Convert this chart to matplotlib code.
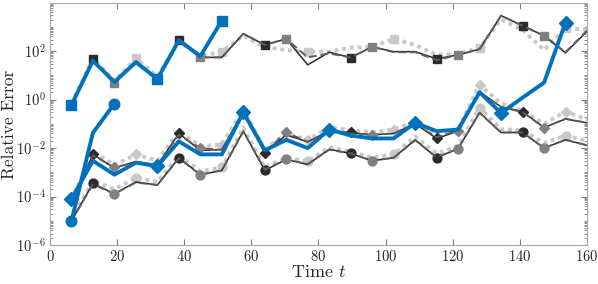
import numpy as np
import matplotlib
matplotlib.use("Agg")
import matplotlib.pyplot as plt
from matplotlib.ticker import LogLocator, FixedLocator, NullFormatter

plt.rcParams['font.family'] = 'serif'
plt.rcParams['font.serif'] = ['cmr10', 'DejaVu Serif']
plt.rcParams['mathtext.fontset'] = 'cm'
plt.rcParams['axes.formatter.use_mathtext'] = True

# time steps
t = np.arange(1, 26) * 6.4

# square group (~1e2)
sq_black = [0.6, 45, 5, 35, 7, 280, 55, 55, 520, 180, 320, 27, 90, 54, 150,
            95, 95, 48, 70, 120, 2900, 1100, 430, 85, 650]
sq_gray = [0.6, 40, 5, 38, 7, 260, 55, 55, 520, 180, 320, 55, 80, 54, 150,
           90, 90, 42, 70, 120, 2900, 1100, 430, 90, 700]
sq_light = [0.7, 50, 6, 50, 9, 250, 60, 95, 420, 150, 110, 95, 95, 140, 150,
            320, 180, 70, 75, 140, 2000, 750, 110, 900, 750]
sq_blue = [0.6, 40, 5.3, 35, 7, 280, 62, 1800]

# diamond group (~1e-2)
di_black = [6e-5, 5.5e-3, 1.5e-3, 2.8e-3, 2e-3, 0.04, 8e-3, 8.7e-3, 0.3, 6.5e-3,
            0.035, 0.018, 0.05, 0.044, 0.035, 0.04, 0.1, 0.025, 0.05, 2.1,
            0.5, 0.32, 0.07, 0.16, 0.11]
di_gray = [6e-5, 5e-3, 1.6e-3, 2.6e-3, 2e-3, 0.035, 0.01, 8.5e-3, 0.28, 7e-3,
           0.044, 0.018, 0.05, 0.04, 0.036, 0.04, 0.1, 0.028, 0.053, 2.0,
           0.5, 0.3, 0.07, 0.16, 0.11]
di_light = [7e-5, 7e-3, 2e-3, 5.5e-3, 3e-3, 0.05, 0.012, 0.014, 0.4, 9e-3,
            0.04, 0.022, 0.07, 0.055, 0.045, 0.058, 0.12, 0.035, 0.06, 4.1,
            0.7, 0.35, 0.1, 0.32, 0.15]
di_blue = [8e-5, 3e-3, 8e-4, 2.5e-3, 1.8e-3, 0.019, 5.5e-3, 5.5e-3, 0.3, 8e-3,
           0.022, 0.01, 0.058, 0.033, 0.025, 0.025, 0.11, 0.05, 0.058, 2.0,
           0.28, 1.2, 5, 1500]

# circle group (~1e-3)
ci_black = [1e-5, 3.5e-4, 1.3e-4, 4e-4, 3e-4, 4e-3, 8e-4, 1.2e-3, 0.05, 1.2e-3,
            3.4e-3, 2.1e-3, 9e-3, 6e-3, 3e-3, 4e-3, 0.022, 4e-3, 9.5e-3, 0.29,
            0.044, 0.044, 0.01, 0.022, 0.013]
ci_gray = [1e-5, 3.2e-4, 1.3e-4, 3.8e-4, 3e-4, 3.8e-3, 8e-4, 1.2e-3, 0.048, 1.3e-3,
           3.4e-3, 2.2e-3, 8.5e-3, 6e-3, 3e-3, 4e-3, 0.021, 4.2e-3, 9.5e-3, 0.28,
           0.044, 0.044, 0.01, 0.022, 0.013]
ci_light = [1.2e-5, 4.5e-4, 2e-4, 6e-4, 4e-4, 5e-3, 1.1e-3, 1.6e-3, 0.07, 1.6e-3,
            4e-3, 2.8e-3, 0.011, 7e-3, 4e-3, 5.5e-3, 0.03, 6e-3, 0.012, 0.47,
            0.06, 0.055, 0.016, 0.033, 0.02]
ci_blue = [1e-5, 0.043, 0.68]

c_black = '#2b2b2b'
c_dash = '#5e5e5e'
c_mid = '#808080'
c_light = '#c8c8c8'
c_blue = '#0072BD'

fig = plt.figure(figsize=(5.98, 2.84), dpi=100)
ax = fig.add_axes([0.0836, 0.137, 0.898, 0.852])

n = len(t)
idx_black = list(range(1, n, 4))
idx_gray = list(range(2, n, 4))
idx_light = list(range(3, n, 4))


def blue_idx(m):
    ids = list(range(0, m, 4))
    if m - 1 not in ids:
        ids.append(m - 1)
    return ids


groups = [
    (sq_black, sq_gray, sq_light, sq_blue, 's', 6.2, 7.4),
    (di_black, di_gray, di_light, di_blue, 'D', 5.2, 6.8),
    (ci_black, ci_gray, ci_light, ci_blue, 'o', 6.4, 7.6),
]

for blk, gry, lgt, blu, mk, ms, msb in groups:
    ax.plot(t, lgt, color=c_light, lw=2.8, ls=(0, (1, 1)),
            marker=mk, ms=ms, markevery=idx_light, mfc=c_light, mec=c_light)
    ax.plot(t, blk, color=c_black, lw=1.1, ls='-',
            marker=mk, ms=ms, markevery=idx_black, mfc=c_black, mec=c_black)
    ax.plot(t, gry, color=c_dash, lw=1.4, ls=(0, (4, 2)),
            marker=mk, ms=ms, markevery=idx_gray, mfc=c_mid, mec=c_mid)

for blk, gry, lgt, blu, mk, ms, msb in groups:
    m = len(blu)
    ax.plot(t[:m], blu, color=c_blue, lw=2.8, marker=mk, ms=msb,
            markevery=blue_idx(m), mfc=c_blue, mec=c_blue)

ax.set_yscale('log')
ax.set_xlim(0, 160)
ax.set_ylim(1e-6, 9.5e3)
ax.set_xticks(np.arange(0, 161, 20))
ax.yaxis.set_major_locator(FixedLocator([1e-6, 1e-4, 1e-2, 1e0, 1e2]))
ax.yaxis.set_minor_locator(LogLocator(base=10, subs=np.arange(1, 10), numticks=30))
ax.yaxis.set_minor_formatter(NullFormatter())

for s in ax.spines.values():
    s.set_color('#a8a8a8')
    s.set_linewidth(0.8)
ax.tick_params(which='both', direction='in', top=True, right=True,
               color='#808080', labelcolor='#262626', labelsize=10.5)
ax.tick_params(which='major', length=4, pad=3)
ax.tick_params(which='minor', length=2)

ax.set_xlabel('Time $t$', fontsize=13, color='#262626', labelpad=0)
ax.set_ylabel('Relative Error', fontsize=12.5, color='#262626')
ax.yaxis.set_label_coords(-0.061, 0.5)

fig.savefig('out.png', dpi=100)
